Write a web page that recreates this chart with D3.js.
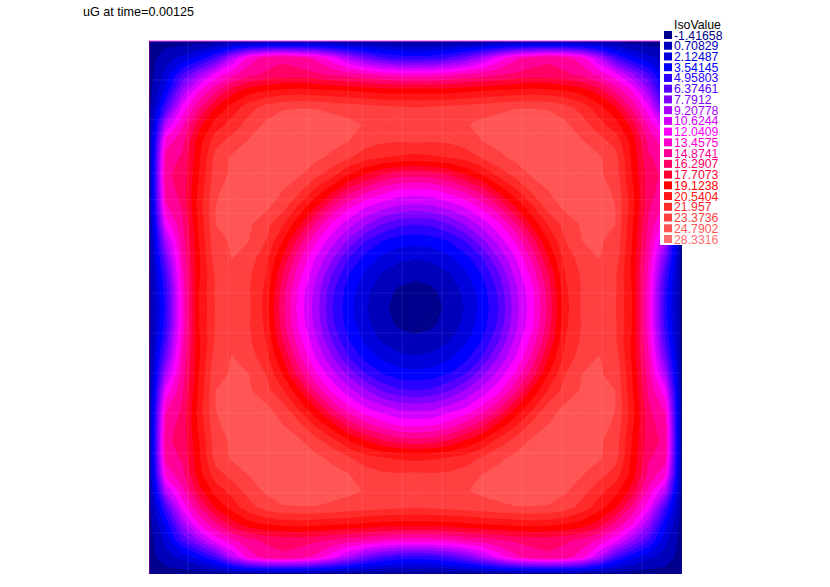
<!DOCTYPE html>
<html>
<head>
<meta charset="utf-8">
<title>uG at time=0.00125</title>
<script src="https://cdn.jsdelivr.net/npm/d3@7"></script>
<style>
  html, body { margin: 0; padding: 0; background: #fff; }
  svg { display: block; font-family: "Liberation Sans", Arial, sans-serif; }
</style>
</head>
<body>
<svg></svg>
<script>
var title_text = 'uG at time=0.00125';
var legend_title = 'IsoValue';

var iso_labels = ['-1.41658', '0.70829', '2.12487', '3.54145', '4.95803', '6.37461', '7.7912',
  '9.20778', '10.6244', '12.0409', '13.4575', '14.8741', '16.2907', '17.7073', '19.1238',
  '20.5404', '21.957', '23.3736', '24.7902', '28.3316'];

var iso_colors = ['#00008c', '#0000bb', '#0000dd', '#0000ff', '#2a00ff', '#5500ff', '#8000ff',
  '#aa00ff', '#d400ff', '#ff00ff', '#ff00cc', '#ff0099', '#ff0066', '#ff0033', '#ff0000',
  '#ff1515', '#ff2a2a', '#ff4040', '#ff5555', '#ff6e6e'];

// top left quarter of the field
// the other three quarters are its mirror images
var field_quarter = [
  [0, 0, 0, 0, 0, 0, 0, 0, 0, 0, 0, 0, 0, 0, 0, 0, 0],
  [0, 1.6, 2.5, 4, 6.5, 10.5, 14, 15.5, 16, 15.5, 14.5, 12.5, 10, 8, 6.5, 5.7, 5.5],
  [0, 2.5, 6.5, 9.5, 12.5, 14.5, 15.8, 16.5, 16.8, 16.8, 16.5, 16, 15.5, 15, 14.5, 14, 14],
  [0, 4, 9.5, 13.5, 16, 18.5, 20, 20.6, 21, 21.2, 21, 20.8, 20.6, 20.3, 20, 20, 20],
  [0, 6.5, 12.5, 16, 19.3, 21.2, 22.8, 24, 24.7, 24.75, 24.75, 24.5, 24.2, 24, 23.8, 23.6, 23.4],
  [0, 10.5, 14.5, 18.5, 21.2, 22.5, 24, 25, 25.3, 25.4, 25.4, 25.3, 25.1, 24.7, 24.3, 24.1, 24],
  [0, 14, 15.8, 20, 22.8, 24, 24.9, 25.3, 25.5, 25.4, 25.3, 25.2, 24.8, 24.1, 23.6, 23.5, 23.6],
  [0, 15.5, 16.5, 20.3, 24, 25, 25.3, 25.5, 25.4, 25.2, 25.1, 24.5, 23.5, 22.5, 22, 21.7, 21.5],
  [0, 16, 16.8, 20.5, 24.2, 25, 25.4, 25.4, 25.1, 25, 23.9, 22.5, 20.6, 19.2, 17.8, 17, 16.8],
  [0, 15.5, 16.8, 21, 24.6, 25.3, 25.4, 25.2, 24.8, 23.7, 21.6, 19.5, 17, 15.3, 14, 13.1, 12.9],
  [0, 14.5, 16.5, 21.2, 24.8, 25.2, 25.3, 25.1, 24, 21.6, 19, 16, 13.7, 12, 11, 10.2, 10],
  [0, 12.5, 16, 20.8, 24.8, 25.1, 25, 23.9, 22.2, 19.5, 16, 13.1, 11.2, 9.4, 7.7, 6.7, 6.4],
  [0, 10, 15.5, 20.6, 24.5, 24.9, 24.8, 23.4, 20.6, 17, 13.7, 11.2, 8.8, 6.4, 5, 4.25, 4],
  [0, 8, 15, 20.3, 24.2, 24.85, 24.1, 22.5, 19.2, 15.3, 12, 9.4, 6.4, 4.5, 3.25, 2.5, 2.25],
  [0, 6.5, 14.5, 20.3, 23.6, 24.2, 23.6, 22, 17.8, 14, 11, 7.7, 5, 3.25, 2, 1.25, 1],
  [0, 5.7, 14, 20.5, 23.6, 24.1, 23.5, 21.7, 17, 13.1, 10.2, 6.7, 4.25, 2.5, 1.25, 0.5, 0.25],
  [0, 5.5, 14, 20.5, 23.5, 24, 23.6, 21.5, 16.8, 12.9, 10, 6.4, 4, 2.25, 1, 0.25, 0]
];

// faint seams of the mesh, as fractions of the unit square
var seam_columns = [0.073, 0.148, 0.223, 0.298, 0.373, 0.4, 0.475, 0.55, 0.625, 0.7, 0.775, 0.85, 0.925];
var seam_rows = [0.073, 0.148, 0.173, 0.248, 0.298, 0.323, 0.398, 0.473, 0.548, 0.623, 0.698, 0.773, 0.848, 0.923];
var seam_diagonals = [0.15, 0.3, 0.45, 0.6, 0.75, 0.9, 1.05, 1.2, 1.35, 1.5, 1.65, 1.8];

var svg_width = 830,
  svg_height = 587,
  plot_left = 149,
  plot_right = 682,
  plot_top = 41,
  plot_bottom = 574;

var svg = d3
  .select('svg')
  .attr('width', svg_width)
  .attr('height', svg_height);

// unfold the quarter into the whole grid
var half_rows = field_quarter.map(function(row) {
  return row.concat(row.slice(0, -1).reverse());
});
var whole_rows = half_rows.concat(half_rows.slice(0, -1).reverse());
var grid_size = whole_rows.length;
var field_values = d3.merge(whole_rows);

// d3.contours puts grid node k at k + 0.5
var x_scale = d3.scaleLinear().domain([0.5, grid_size - 0.5]).range([plot_left, plot_right]);
var y_scale = d3.scaleLinear().domain([0.5, grid_size - 0.5]).range([plot_top, plot_bottom]);
var mesh_x = d3.scaleLinear().domain([0, 1]).range([plot_left, plot_right]);
var mesh_y = d3.scaleLinear().domain([0, 1]).range([plot_top, plot_bottom]);

var iso_values = iso_labels.map(Number);
var color_scale = d3.scaleOrdinal().domain(iso_values).range(iso_colors);

var contour_func = d3.contours().size([grid_size, grid_size]).thresholds(iso_values);

var path_func = d3.geoPath(
  d3.geoTransform({
    point: function(x, y) {
      this.stream.point(x_scale(x), y_scale(y));
    }
  })
);

svg
  .append('clipPath')
  .attr('id', 'plot-clip')
  .append('rect')
  .attr('x', plot_left)
  .attr('y', plot_top)
  .attr('width', plot_right - plot_left)
  .attr('height', plot_bottom - plot_top);

var plot = svg.append('g').attr('clip-path', 'url(#plot-clip)');

plot
  .selectAll('.band')
  .data(contour_func(field_values))
  .enter()
  .append('path')
  .attr('class', 'band')
  .attr('d', path_func)
  .attr('fill', function(d) {
    return color_scale(d.value);
  });

plot
  .selectAll('.seam-col')
  .data(seam_columns)
  .enter()
  .append('line')
  .attr('class', 'seam-col')
  .attr('x1', mesh_x)
  .attr('x2', mesh_x)
  .attr('y1', plot_top)
  .attr('y2', plot_bottom)
  .attr('stroke', '#fff')
  .attr('stroke-opacity', 0.09);

plot
  .selectAll('.seam-row')
  .data(seam_rows)
  .enter()
  .append('line')
  .attr('class', 'seam-row')
  .attr('y1', mesh_y)
  .attr('y2', mesh_y)
  .attr('x1', plot_left)
  .attr('x2', plot_right)
  .attr('stroke', '#fff')
  .attr('stroke-opacity', 0.09);

// diagonals run from the left edge up to the top edge of the unit square
plot
  .selectAll('.seam-diag')
  .data(seam_diagonals)
  .enter()
  .append('line')
  .attr('class', 'seam-diag')
  .attr('x1', function(d) {
    return mesh_x(Math.max(0, d - 1));
  })
  .attr('y1', function(d) {
    return mesh_y(Math.min(1, d));
  })
  .attr('x2', function(d) {
    return mesh_x(Math.min(1, d));
  })
  .attr('y2', function(d) {
    return mesh_y(Math.max(0, d - 1));
  })
  .attr('stroke', '#fff')
  .attr('stroke-opacity', 0.05);

// edge strokes left by the mesh outline
svg
  .append('line')
  .attr('x1', plot_left)
  .attr('x2', plot_right)
  .attr('y1', plot_top)
  .attr('y2', plot_top)
  .attr('stroke', '#ff40ff');

svg
  .append('line')
  .attr('x1', plot_left + 0.5)
  .attr('x2', plot_left + 0.5)
  .attr('y1', plot_top)
  .attr('y2', plot_bottom)
  .attr('stroke', '#600090');

svg
  .append('text')
  .attr('x', 83)
  .attr('y', 16)
  .attr('font-size', 12.6)
  .attr('fill', '#000')
  .text(title_text);

// legend sits on a white panel that covers the plot corner
svg
  .append('rect')
  .attr('x', 660)
  .attr('y', 20)
  .attr('width', 62)
  .attr('height', 225)
  .attr('fill', '#fff');

svg
  .append('text')
  .attr('x', 674)
  .attr('y', 29)
  .attr('font-size', 12.3)
  .attr('fill', '#000')
  .text(legend_title);

var legend_y = d3.scaleLinear().domain([0, iso_labels.length - 1]).range([35, 239]);

var legend_row = svg
  .selectAll('.legend-row')
  .data(iso_labels)
  .enter()
  .append('g')
  .attr('class', 'legend-row')
  .attr('transform', function(d, i) {
    return 'translate(0,' + legend_y(i) + ')';
  });

legend_row
  .append('rect')
  .attr('x', 664)
  .attr('y', -4)
  .attr('width', 8)
  .attr('height', 8)
  .attr('fill', function(d, i) {
    return iso_colors[i];
  });

legend_row
  .append('text')
  .attr('x', 674)
  .attr('y', 4.5)
  .attr('font-size', 12.3)
  .attr('fill', function(d, i) {
    return iso_colors[i];
  })
  .text(function(d) {
    return d;
  });
</script>
</body>
</html>
